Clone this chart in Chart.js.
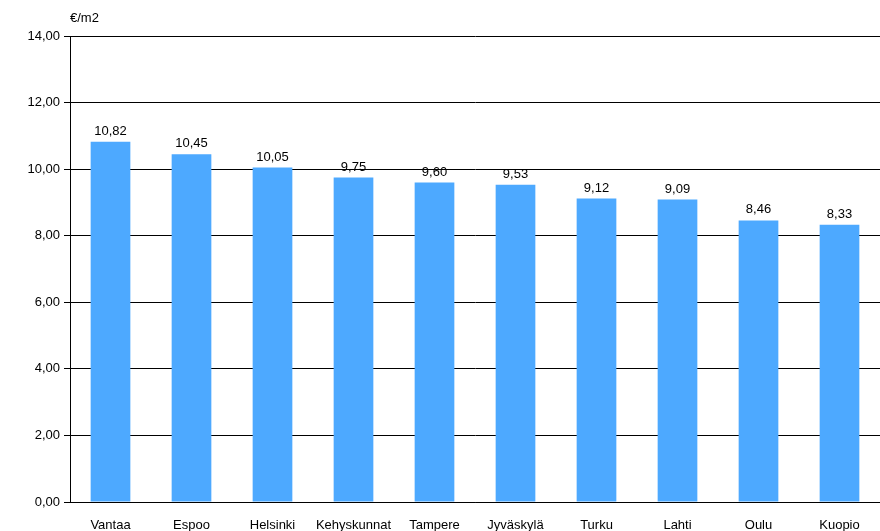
<!DOCTYPE html>
<html>
<head>
<meta charset="utf-8">
<script src="https://cdn.jsdelivr.net/npm/chart.js@4"></script>
<style>
  html, body { margin: 0; padding: 0; background: #fff; }
  #wrap { width: 880px; height: 531px; }
</style>
</head>
<body>
<div id="wrap"><canvas id="rentChart" width="880" height="531"></canvas></div>
<script>
const cities = ['Vantaa', 'Espoo', 'Helsinki', 'Kehyskunnat', 'Tampere', 'Jyväskylä', 'Turku', 'Lahti', 'Oulu', 'Kuopio'];
const rents = [10.82, 10.45, 10.05, 9.75, 9.60, 9.53, 9.12, 9.09, 8.46, 8.33];
const yTicks = [0, 2, 4, 6, 8, 10, 12, 14];

const fmt = v => v.toFixed(2).replace('.', ',');

// value labels above bars + unit label
const labelPlugin = {
    id: 'labels',
    afterDatasetsDraw(chart) {
        const ctx = chart.ctx;
        ctx.save();
        ctx.font = '13px "Liberation Sans", Arial, sans-serif';
        ctx.fillStyle = '#000';
        ctx.textAlign = 'center';
        ctx.textBaseline = 'bottom';
        chart.getDatasetMeta(0).data.forEach((bar, i) => {
            ctx.fillText(fmt(rents[i]), bar.x, bar.y - 4);
        });
        ctx.textAlign = 'left';
        ctx.textBaseline = 'middle';
        ctx.fillText('€/m2', chart.chartArea.left, 18);
        ctx.restore();
    }
};

new Chart(document.getElementById('rentChart').getContext('2d'), {
    type: 'bar',
    data: {
        labels: cities,
        datasets: [{
            data: rents,
            backgroundColor: '#4da9ff',
            barPercentage: 0.49,
            categoryPercentage: 1.0
        }]
    },
    options: {
        responsive: false,
        animation: false,
        layout: { padding: { top: 36, right: 0, left: 0, bottom: 0 } },
        plugins: { legend: { display: false }, tooltip: { enabled: false } },
        scales: {
            x: {
                grid: { display: false },
                border: { color: '#000' },
                ticks: { color: '#000', font: { size: 13, family: '"Liberation Sans", Arial' }, padding: 8, maxRotation: 0, autoSkip: false },
                afterFit(scale) { scale.height = 29; }
            },
            y: {
                min: 0, max: 14,
                afterBuildTicks(scale) { scale.ticks = yTicks.map(v => ({ value: v })); },
                grid: { color: '#000', drawTicks: true, tickLength: 6 },
                border: { color: '#000' },
                ticks: { color: '#000', font: { size: 13, family: '"Liberation Sans", Arial' }, callback: v => fmt(v), padding: 4 },
                afterFit(scale) { scale.width = 70; }
            }
        }
    },
    plugins: [labelPlugin]
});
</script>
</body>
</html>
